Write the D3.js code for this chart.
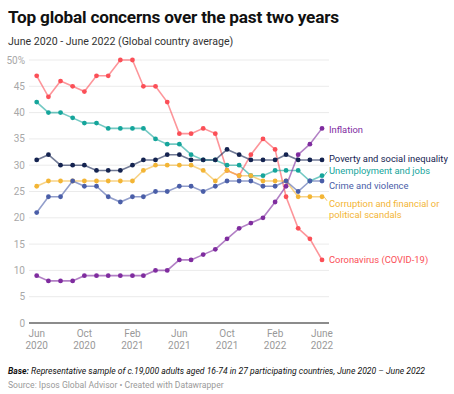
<!DOCTYPE html>
<html>
<head>
<meta charset="utf-8">
<script src="https://cdn.jsdelivr.net/npm/d3@7"></script>
<style>
  body { margin: 0; background: #fff; font-family: Roboto, "Noto Sans", sans-serif; }
  svg text { font-family: Roboto, "Noto Sans", sans-serif; }
</style>
</head>
<body>
<div id="chart-wrap"></div>
<script>
const width = 454;
const height = 394;

// data, June 2020 - June 2022, monthly
const months = d3.timeMonths(new Date(2020, 5, 1), new Date(2022, 6, 1));
const tickLabels = [['Jun', '2020'], ['Oct', '2020'], ['Feb', '2021'], ['Jun', '2021'], ['Oct', '2021'], ['Feb', '2022'], ['June', '2022']];
const tickDates = [new Date(2020, 5, 1), new Date(2020, 9, 1), new Date(2021, 1, 1), new Date(2021, 5, 1), new Date(2021, 9, 1), new Date(2022, 1, 1), new Date(2022, 5, 1)];
const yTicks = [0, 5, 10, 15, 20, 25, 30, 35, 40, 45, 50];

const covid = [47, 43, 46, 45, 44, 47, 47, 50, 50, 45, 45, 42, 36, 36, 37, 36, 29, 28, 32, 35, 33, 24, 18, 16, 12];
const unemployment = [42, 40, 40, 39, 38, 38, 37, 37, 37, 37, 35, 34, 34, 32, 31, 31, 30, 30, 28, 28, 29, 29, 29, 27, 28];
const poverty = [31, 32, 30, 30, 30, 29, 29, 29, 30, 31, 31, 32, 32, 31, 31, 31, 33, 32, 31, 31, 31, 32, 31, 31, 31];
const corruption = [26, 27, 27, 27, 27, 27, 27, 27, 27, 29, 30, 30, 30, 30, 29, 27, 29, 28, 28, 27, 27, 27, 24, 24, 24];
const crime = [21, 24, 24, 27, 26, 26, 24, 23, 24, 24, 25, 25, 26, 26, 25, 26, 27, 27, 27, 26, 26, 27, 25, 27, 27];
const inflation = [9, 8, 8, 8, 9, 9, 9, 9, 9, 9, 10, 10, 12, 12, 13, 14, 16, 18, 19, 20, 23, 26, 32, 34, 37];

const seriesNames = ['Coronavirus (COVID-19)', 'Unemployment and jobs', 'Poverty and social inequality', 'Corruption and financial or|political scandals', 'Crime and violence', 'Inflation'];
const seriesValues = [covid, unemployment, poverty, corruption, crime, inflation];
const colorsArray = ['#fb4f57', '#15a59b', '#142350', '#f3b535', '#4a5ea8', '#7f2c9f'];
// label position (in data units) for the end labels
const labelAt = [12, 28.9, 31.2, 22.7, 26.1, 36.7];

const x = d3.scaleTime()
  .domain([months[0], months[months.length - 1]])
  .range([36.7, 322]);

const y = d3.scaleLinear()
  .domain([0, 50])
  .range([323, 60]);

const svg = d3.select('#chart-wrap').append('svg')
  .attr('width', width)
  .attr('height', height);

// Title + subtitle
svg.append('text')
  .attr('x', 8).attr('y', 23)
  .attr('font-size', 17.2).attr('font-weight', 700)
  .attr('fill', '#111')
  .attr('letter-spacing', -0.2)
  .text('Top global concerns over the past two years');

svg.append('text')
  .attr('x', 8).attr('y', 45)
  .attr('font-size', 10.6).attr('fill', '#333')
  .text('June 2020 - June 2022 (Global country average)');

// Grid
const grid = svg.append('g');
grid.selectAll('line')
  .data(yTicks)
  .join('line')
  .attr('x1', 29).attr('x2', 329)
  .attr('y1', d => y(d)).attr('y2', d => y(d))
  .attr('stroke', d => d === 0 ? '#666' : '#ebebeb')
  .attr('stroke-width', d => d === 0 ? 1.6 : 1);

grid.selectAll('text')
  .data(yTicks)
  .join('text')
  .attr('x', 25).attr('y', d => y(d) + 3.5)
  .attr('text-anchor', 'end')
  .attr('font-size', 10).attr('fill', '#a8a8a8')
  .text(d => d === 50 ? '50%' : d);

// X ticks
const xAxis = svg.append('g');
tickDates.forEach((d, i) => {
  const t = xAxis.append('text')
    .attr('x', x(d))
    .attr('text-anchor', 'middle')
    .attr('font-size', 10).attr('fill', '#999');
  t.append('tspan').attr('x', x(d)).attr('y', 337).text(tickLabels[i][0]);
  t.append('tspan').attr('x', x(d)).attr('y', 349).text(tickLabels[i][1]);
});

// Lines
const line = d3.line()
  .x((d, i) => x(months[i]))
  .y(d => y(d));

const series = svg.append('g');
seriesValues.forEach((vals, s) => {
  series.append('path')
    .attr('d', line(vals))
    .attr('fill', 'none')
    .attr('stroke', colorsArray[s])
    .attr('stroke-opacity', 0.6)
    .attr('stroke-width', 1.6);
});
seriesValues.forEach((vals, s) => {
  series.append('g')
    .selectAll('circle')
    .data(vals)
    .join('circle')
    .attr('cx', (d, i) => x(months[i]))
    .attr('cy', d => y(d))
    .attr('r', 2.4)
    .attr('fill', colorsArray[s]);
});

// End labels
const labels = svg.append('g');
seriesNames.forEach((name, s) => {
  const parts = name.split('|');
  const ly = y(labelAt[s]);
  const t = labels.append('text')
    .attr('font-size', 9.4)
    .attr('fill', colorsArray[s]);
  parts.forEach((p, k) => {
    t.append('tspan')
      .attr('x', 329)
      .attr('y', ly + 3.4 + k * 11)
      .text(p);
  });
});

// small leader lines
const last = months.length - 1;
[[1, 1], [3, -1]].forEach(([s, dir]) => {
  labels.append('line')
    .attr('x1', x(months[last]) + 2).attr('y1', y(seriesValues[s][last]))
    .attr('x2', 327).attr('y2', y(seriesValues[s][last]) - dir * 4)
    .attr('stroke', colorsArray[s]).attr('stroke-width', 0.8);
});

// Footer
const foot = svg.append('text')
  .attr('x', 8).attr('y', 374)
  .attr('font-size', 8.6).attr('font-style', 'italic').attr('fill', '#111');
foot.append('tspan').attr('font-weight', 700).text('Base:');
foot.append('tspan').text(' Representative sample of c.19,000 adults aged 16-74 in 27 participating countries, June 2020 \u2013 June 2022');

svg.append('text')
  .attr('x', 8).attr('y', 388)
  .attr('font-size', 8.6).attr('fill', '#9a9a9a')
  .text('Source: Ipsos Global Advisor \u2022 Created with Datawrapper');
</script>
</body>
</html>
